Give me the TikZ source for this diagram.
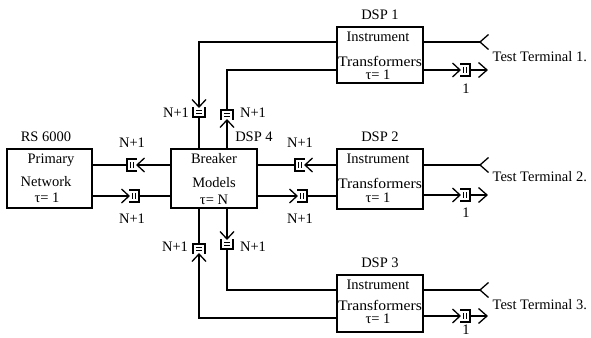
\documentclass[tikz,border=0pt]{standalone}
\usepackage{fontspec}
\setmainfont{Liberation Serif}
\usetikzlibrary{calc}
\begin{document}
\begin{tikzpicture}[x=1pt,y=-1pt,line width=1.3pt,
  box/.style={draw,rectangle,inner sep=0pt,line width=1.3pt},
  txt/.style={font=\fontsize{14.5}{16}\selectfont,inner sep=0pt},
  buf/.pic={
    \fill[white] (0,-6) rectangle (10,6);
    \draw[line width=1.3pt] (0,-6) -- (10,-6) -- (10,6) -- (0,6);
    \draw[line width=0.9pt] (3.8,-3.2) -- (3.8,3.2) (6.4,-3.2) -- (6.4,3.2);
    \draw[line width=1.3pt] (-7.5,-7) -- (0,0) -- (-7.5,7);
  }]
\useasboundingbox (0,0) rectangle (591,337);
% boxes
\node[box,minimum width=85pt,minimum height=59pt] (prim) at (49.5,178.5) {};
\node[box,minimum width=86pt,minimum height=59pt] (brk) at (214,178.5) {};
\node[box,minimum width=86pt,minimum height=56pt] (d1) at (380,55) {};
\node[box,minimum width=86pt,minimum height=60pt] (d2) at (380,179) {};
\node[box,minimum width=86pt,minimum height=57pt] (d3) at (380,303.5) {};
% titles
\node[txt] (lrs) at (46,137) {RS 6000};
\node[txt] (l1) at (380,15) {DSP 1};
\node[txt] (l2) at (380,137) {DSP 2};
\node[txt] (l3) at (380,263) {DSP 3};
\node[txt] (l4) at (254,137) {DSP 4};
% box texts
\node[txt] (p1) at (51,160) {Primary};
\node[txt] (p2) at (46,182) {Network};
\node[txt] (p3) at (47,198) {τ= 1};
\node[txt] (b1) at (214,159) {Breaker};
\node[txt] (b2) at (214,183) {Models};
\node[txt] (b3) at (214,200) {τ= N};
\node[txt] (a1) at (378,37) {Instrument};
\node[txt,xscale=1.08] (a2) at (380,61) {Transformers};
\node[txt] (a3) at (378,75) {τ= 1};
\node[txt] (c1) at (378,159) {Instrument};
\node[txt,xscale=1.08] (c2) at (380,183) {Transformers};
\node[txt] (c3) at (378,198) {τ= 1};
\node[txt] (e1) at (378,285) {Instrument};
\node[txt,xscale=1.08] (e2) at (380,305) {Transformers};
\node[txt] (e3) at (378,319) {τ= 1};
% reference levels
\coordinate (yA) at (0,165);
\coordinate (yB) at (0,196);
\coordinate (y1a) at (0,42);
\coordinate (y1b) at (0,70);
\coordinate (y3a) at (0,290);
\coordinate (y3b) at (0,318);
\coordinate (xL) at (199,0);
\coordinate (xR) at (227,0);
% primary <-> breaker
\draw (brk.west |- yA) -- (prim.east |- yA);
\draw (prim.east |- yB) -- (brk.west |- yB);
% breaker <-> dsp2
\draw (d2.west |- yA) -- (brk.east |- yA);
\draw (brk.east |- yB) -- (d2.west |- yB);
% breaker <-> dsp1
\draw (d1.west |- y1a) -- (xL |- y1a) -- (xL |- brk.north);
\draw (xR |- brk.north) -- (xR |- y1b) -- (d1.west |- y1b);
% breaker <-> dsp3
\draw (d3.west |- y3b) -- (xL |- y3b) -- (xL |- brk.south);
\draw (xR |- brk.south) -- (xR |- y3a) -- (d3.west |- y3a);
% terminals
\coordinate (t1i) at (480,42);
\coordinate (t1o) at (487,70);
\coordinate (t2i) at (480,165);
\coordinate (t2o) at (487,195);
\coordinate (t3i) at (480,290);
\coordinate (t3o) at (487,316);
\foreach \d/\i/\o in {d1/t1i/t1o,d2/t2i/t2o,d3/t3i/t3o}{
  \draw (\d.east |- \i) -- (\i);
  \draw ($(\i)+(8.5,-7.5)$) -- (\i) -- ($(\i)+(8.5,7.5)$);
  \draw (\d.east |- \o) -- (\o);
  \draw ($(\o)+(-8.5,-7.5)$) -- (\o) -- ($(\o)+(-8.5,7.5)$);
  \pic at ($(\o)+(-27,0)$) {buf};
}
% buffers
\pic[rotate=180] at (137,165) {buf};
\pic at (129,196) {buf};
\pic[rotate=180] at (305,165) {buf};
\pic at (297,196) {buf};
\pic[rotate=-90] at (xL |- 0,107) {buf};
\pic[rotate=90] at (xR |- 0,120) {buf};
\pic[rotate=90] at (xL |- 0,254) {buf};
\pic[rotate=-90] at (xR |- 0,239) {buf};
% buffer labels
\node[txt] (n1) at (132,143) {N+1};
\node[txt] (n2) at (132,219) {N+1};
\node[txt] (n3) at (300,143) {N+1};
\node[txt] (n4) at (300,219) {N+1};
\node[txt] (n5) at (176,113) {N+1};
\node[txt] (n6) at (253,113) {N+1};
\node[txt] (n7) at (175,247) {N+1};
\node[txt] (n8) at (253,247) {N+1};
\node[txt] (o1) at (466,89) {1};
\node[txt] (o2) at (466,213) {1};
\node[txt] (o3) at (466,330) {1};
% terminal labels
\node[txt,anchor=west] (tt1) at (492,57) {Test Terminal 1.};
\node[txt,anchor=west] (tt2) at (492,177) {Test Terminal 2.};
\node[txt,anchor=west] (tt3) at (492,305) {Test Terminal 3.};
\end{tikzpicture}
\end{document}
